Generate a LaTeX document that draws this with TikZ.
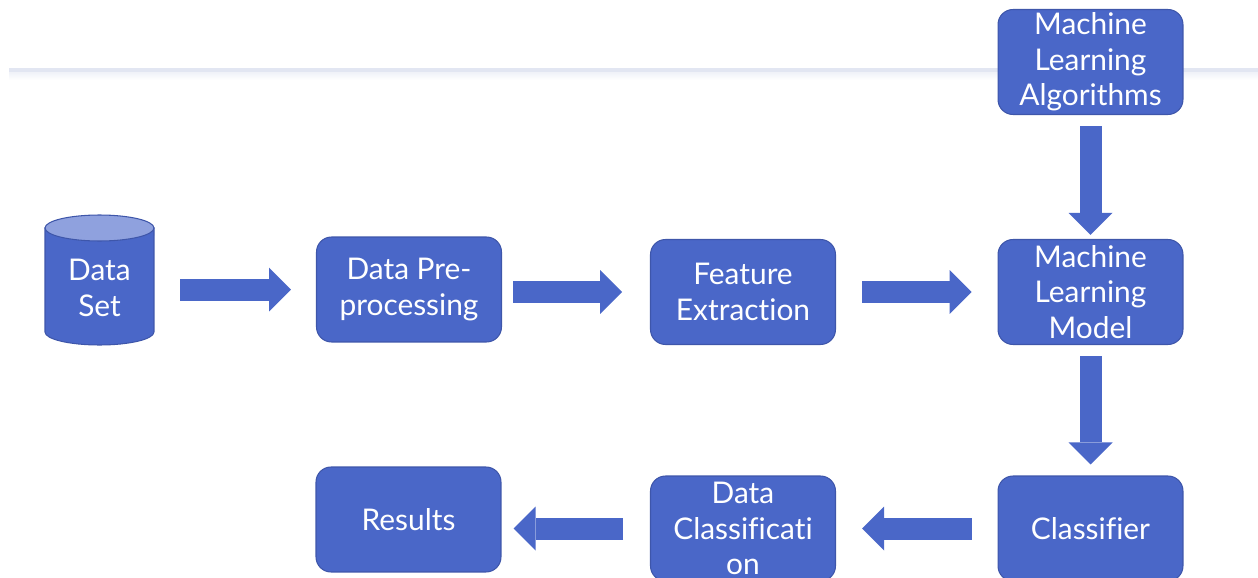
\documentclass[tikz,border=0pt]{standalone}
\usepackage{fontspec}
\setmainfont{Lato}[Ligatures=NoCommon]
\usetikzlibrary{arrows.meta}
\definecolor{bfill}{RGB}{74,103,200}
\definecolor{bline}{RGB}{62,86,170}
\definecolor{btop}{RGB}{143,161,222}
\definecolor{rulec}{RGB}{226,230,242}
\begin{document}
\begin{tikzpicture}[x=0.02cm,y=-0.02cm,
  box/.style={draw=bline, fill=bfill, line width=0.6pt, rounded corners=0.3cm,
    minimum width=3.7cm, minimum height=2.1cm, inner sep=0pt, text=white,
    align=center, font=\fontsize{17}{20.2}\selectfont},
  txt/.style={inner sep=0pt, text=white, align=center, font=\fontsize{17}{20.2}\selectfont},
  blk/.style={draw=bfill, line width=0.44cm,
    -{Triangle[width=0.88cm,length=0.44cm,line width=0pt]}},
]
\useasboundingbox (0,0) rectangle (1258,578);
% faint rule
\shade[top color=rulec!60, bottom color=white] (9,71) rectangle (1258,80);
\draw[rulec, line width=2pt] (9,70) -- (1258,70);

% cylinder
\fill[bfill, draw=bline, line width=0.6pt] (45,228) -- (45,332)
  arc[start angle=180, end angle=360, x radius=1.09cm, y radius=0.26cm]
  -- (154,228) -- cycle;
\filldraw[fill=btop, draw=bline, line width=0.6pt] (99.5,228) ellipse [x radius=1.09cm, y radius=0.26cm];
\node[txt, minimum width=2.18cm, minimum height=2.6cm] (ds) at (99.5,288) {Data\\Set};

% boxes
\node[box] (pre) at (409,289.5) {Data Pre-\\processing};
\node[box] (feat) at (743,292) {Feature\\Extraction};
\node[box] (model) at (1090.5,292) {Machine\\Learning\\Model};
\node[box] (algo) at (1090.5,62) {Machine\\Learning\\Algorithms};
\node[box] (cls) at (1090.5,528.5) {Classifier};
\node[box] (dc) at (743,528.5) {Data\\Classificati\\on};
\node[box] (res) at (408.5,519.5) {Results};

% block arrows
\draw[blk, shorten <=0.52cm, shorten >=0.5cm] (pre.west -| ds.east) -- (pre.west);
\draw[blk, shorten <=0.22cm, shorten >=0.56cm] (feat.west -| pre.east) -- (feat.west);
\draw[blk, shorten <=0.52cm, shorten >=0.52cm] (feat.east) -- (model.west);
\draw[blk, shorten <=0.22cm, shorten >=0.08cm] (algo.south) -- (model.north);
\draw[blk, shorten <=0.22cm, shorten >=0.22cm] (model.south) -- (cls.north);
\draw[blk, shorten <=0.52cm, shorten >=0.52cm] (cls.west) -- (dc.east);
\draw[blk, shorten <=0.54cm, shorten >=0.24cm] (dc.west) -- (dc.west -| res.east);
\end{tikzpicture}
\end{document}
